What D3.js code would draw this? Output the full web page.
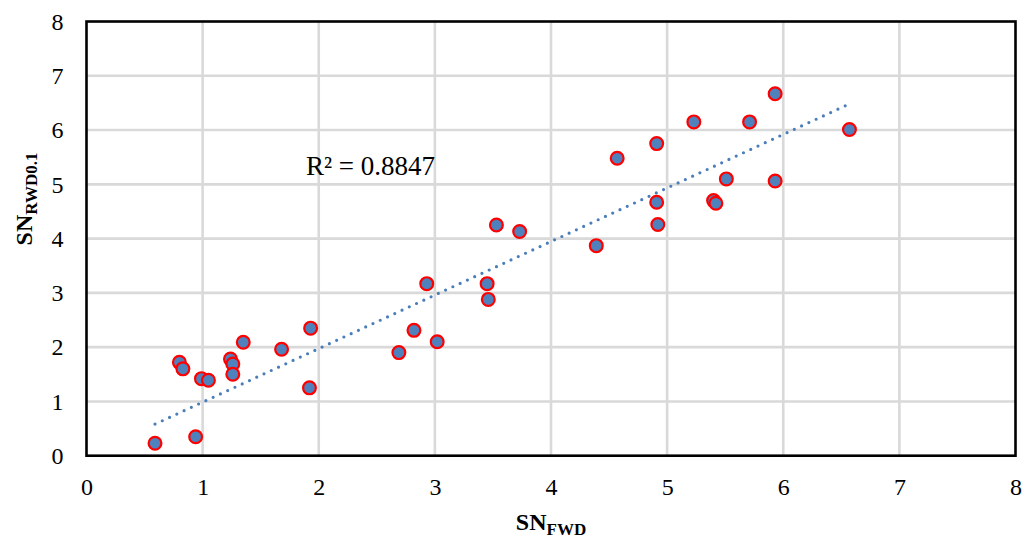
<!DOCTYPE html>
<html>
<head>
<meta charset="utf-8">
<script src="https://cdn.jsdelivr.net/npm/d3@7"></script>
<style>
  body { margin: 0; background: #fff; }
  svg { display: block; font-family: "Liberation Serif", "Times New Roman", serif; }
</style>
</head>
<body>
<svg width="1024" height="541"></svg>
<script>
// data
var snFwd = [0.59, 0.94, 0.80, 0.83, 0.99, 1.05, 1.24, 1.26, 1.26, 1.35, 1.68, 1.93, 1.92,
  2.69, 2.82, 3.02, 2.93, 3.45, 3.46, 3.53, 3.73, 4.39, 4.57, 4.91, 4.91, 4.92,
  5.23, 5.40, 5.42, 5.51, 5.71, 5.93, 5.93, 6.57];
var snRwd = [0.23, 0.35, 1.72, 1.60, 1.42, 1.39, 1.78, 1.69, 1.50, 2.09, 1.96, 2.35, 1.25,
  1.90, 2.31, 2.10, 3.17, 3.17, 2.88, 4.25, 4.13, 3.87, 5.48, 5.75, 4.67, 4.26,
  6.15, 4.70, 4.65, 5.10, 6.15, 6.67, 5.06, 6.01];
var xTicks = [0, 1, 2, 3, 4, 5, 6, 7, 8];
var yTicks = [0, 1, 2, 3, 4, 5, 6, 7, 8];
var r2Label = 'R² = 0.8847';

var margin = {top: 21.5, left: 86.5, right: 8.5, bottom: 85.3};
var width = 1024 - margin.left - margin.right;
var height = 541 - margin.top - margin.bottom;

var data = snFwd.map((x, i) => ({x: x, y: snRwd[i]}));

var xScale = d3.scaleLinear().domain([0, 8]).range([0, width]);
var yScale = d3.scaleLinear().domain([0, 8]).range([height, 0]);

var svg = d3.select('svg');
var g = svg.append('g')
  .attr('transform', 'translate(' + [margin.left, margin.top] + ')');

// gridlines
g.append('g')
  .selectAll('line')
  .data(xTicks.slice(1, -1))
  .enter().append('line')
  .attr('x1', d => xScale(d)).attr('x2', d => xScale(d))
  .attr('y1', 0).attr('y2', height)
  .attr('stroke', '#d9d9d9').attr('stroke-width', 2.6);
g.append('g')
  .selectAll('line')
  .data(yTicks.slice(1, -1))
  .enter().append('line')
  .attr('x1', 0).attr('x2', width)
  .attr('y1', d => yScale(d)).attr('y2', d => yScale(d))
  .attr('stroke', '#d9d9d9').attr('stroke-width', 2.6);

// frame
g.append('rect')
  .attr('width', width).attr('height', height)
  .attr('fill', 'none').attr('stroke', '#000').attr('stroke-width', 2.6);

// axes (labels only)
var xAxis = d3.axisBottom(xScale).tickValues(xTicks).tickSize(0).tickPadding(22).tickFormat(d3.format('d'));
var yAxis = d3.axisLeft(yScale).tickValues(yTicks).tickSize(0).tickPadding(23).tickFormat(d3.format('d'));

var gx = g.append('g').attr('transform', 'translate(' + [0, height] + ')').call(xAxis);
var gy = g.append('g').call(yAxis);
[gx, gy].forEach(a => {
  a.attr('font-family', null);
  a.select('.domain').remove();
  a.selectAll('text')
    .attr('font-size', 24)
    .attr('fill', '#000');
});

// linear trendline, intercept set to 0
var slope = d3.sum(data, d => d.x * d.y) / d3.sum(data, d => d.x * d.x);
var xr = d3.extent(snFwd);
var trend = xr.map(x => ({x: x, y: slope * x}));

g.append('path')
  .datum(trend)
  .attr('d', d3.line().x(d => xScale(d.x)).y(d => yScale(d.y)))
  .attr('fill', 'none')
  .attr('stroke', '#4a7ebb')
  .attr('stroke-width', 3.2)
  .attr('stroke-linecap', 'round')
  .attr('stroke-dasharray', '0,8');

// points
g.selectAll('circle')
  .data(data)
  .enter().append('circle')
  .attr('cx', d => xScale(d.x))
  .attr('cy', d => yScale(d.y))
  .attr('r', 6.4)
  .attr('fill', '#4f81bd')
  .attr('stroke', '#ff0000')
  .attr('stroke-width', 2.2);

// R² label
svg.append('text')
  .attr('x', 306).attr('y', 175)
  .attr('font-size', 27)
  .attr('fill', '#000')
  .text(r2Label);

// axis titles
var xt = svg.append('text')
  .attr('x', 551).attr('y', 530)
  .attr('text-anchor', 'middle')
  .attr('font-weight', 'bold')
  .attr('font-size', 24);
xt.append('tspan').text('SN');
xt.append('tspan').attr('dy', 5).attr('font-size', 17).text('FWD');

var yt = svg.append('text')
  .attr('transform', 'translate(32,199) rotate(-90)')
  .attr('text-anchor', 'middle')
  .attr('font-weight', 'bold')
  .attr('font-size', 24);
yt.append('tspan').text('SN');
yt.append('tspan').attr('dy', 5).attr('font-size', 17).text('RWD0.1');
</script>
</body>
</html>
